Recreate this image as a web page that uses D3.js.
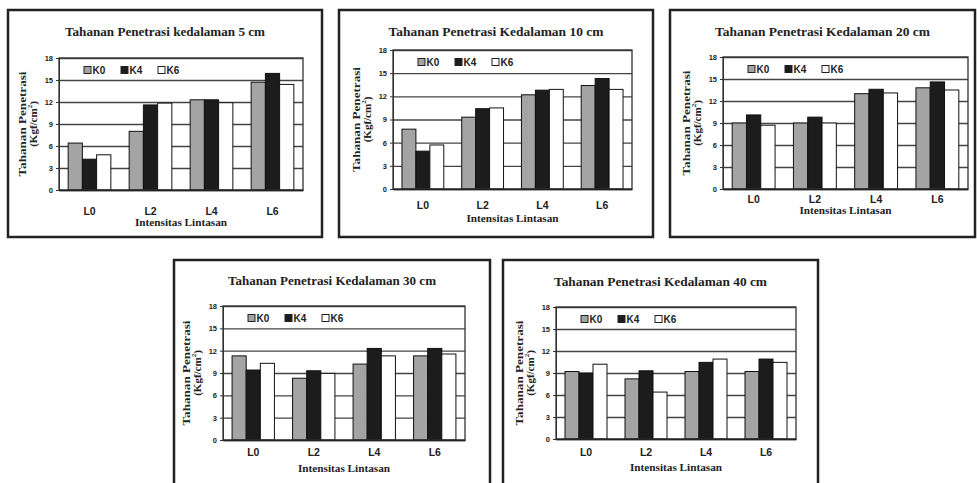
<!DOCTYPE html>
<html>
<head>
<meta charset="utf-8">
<script src="https://cdn.jsdelivr.net/npm/d3@7"></script>
<style>
  body { margin: 0; background: #fff; }
  svg { display: block; }
</style>
</head>
<body>
<div id="chart"></div>
<script>
// data
var categories = ["L0", "L2", "L4", "L6"];
var series = ["K0", "K4", "K6"];
var yTicks = [0, 3, 6, 9, 12, 15, 18];
var titles = [
  "Tahanan Penetrasi kedalaman 5 cm",
  "Tahanan Penetrasi Kedalaman 10 cm",
  "Tahanan Penetrasi Kedalaman 20 cm",
  "Tahanan Penetrasi Kedalaman 30 cm",
  "Tahanan Penetrasi Kedalaman 40 cm"
];
// values per series (K0, K4, K6) over L0, L2, L4, L6
var depth5  = [[6.4, 8.0, 12.3, 14.7], [4.2, 11.6, 12.3, 15.9], [4.8, 11.85, 11.9, 14.4]];
var depth10 = [[7.75, 9.3, 12.2, 13.4], [4.9, 10.4, 12.8, 14.3], [5.7, 10.5, 12.9, 12.9]];
var depth20 = [[9.0, 9.0, 13.0, 13.8], [10.1, 9.8, 13.6, 14.6], [8.7, 9.0, 13.1, 13.5]];
var depth30 = [[11.3, 8.3, 10.2, 11.3], [9.4, 9.3, 12.3, 12.3], [10.3, 8.95, 11.3, 11.55]];
var depth40 = [[9.2, 8.2, 9.2, 9.2], [9.0, 9.3, 10.45, 10.9], [10.2, 6.4, 10.9, 10.45]];
var allData = [depth5, depth10, depth20, depth30, depth40];

var colors = {K0: "#a4a4a4", K4: "#1c1c1c", K6: "#ffffff"};

// panel layout: box, plot area, offsets of tick labels / axis title
var panels = [
  {box: [8, 10, 314, 227],   plot: [59, 58, 303, 190],   tick: 21, xlab: 32, title: 32,  tw: 200},
  {box: [339, 10, 314, 227], plot: [393, 50, 632, 189],  tick: 16, xlab: 29, title: 32,  tw: 215},
  {box: [670, 10, 305, 227], plot: [723, 57, 968, 189],  tick: 10, xlab: 21, title: 32,  tw: 215},
  {box: [174, 260, 316, 240], plot: [223, 306, 465, 440], tick: 12, xlab: 28, title: 281, tw: 208},
  {box: [503, 260, 315, 240], plot: [556, 307, 796, 439], tick: 13, xlab: 28, title: 282, tw: 213}
];

var svg = d3.select("#chart").append("svg")
  .attr("width", 977)
  .attr("height", 483);

panels.forEach(function(p, i) {
  var data = allData[i];
  var L = p.plot[0], T = p.plot[1], R = p.plot[2], B = p.plot[3];
  var w = R - L, h = B - T;

  // outer frame
  svg.append("rect")
    .attr("x", p.box[0]).attr("y", p.box[1])
    .attr("width", p.box[2]).attr("height", p.box[3])
    .attr("fill", "#fff")
    .attr("stroke", "#222")
    .attr("stroke-width", 2.5);

  // title
  svg.append("text")
    .attr("x", p.box[0] + p.box[2] / 2)
    .attr("y", p.title)
    .attr("text-anchor", "middle")
    .attr("dominant-baseline", "central")
    .attr("textLength", p.tw)
    .attr("lengthAdjust", "spacingAndGlyphs")
    .style("font-family", "Liberation Serif, serif")
    .style("font-size", "12px")
    .style("font-weight", "bold")
    .style("fill", "#222")
    .text(titles[i]);

  var g = svg.append("g").attr("transform", "translate(" + L + "," + T + ")");

  var x = d3.scaleBand().domain(categories).range([0, w])
    .paddingInner(0.3).paddingOuter(0.15);
  var xs = d3.scaleBand().domain(series).range([0, x.bandwidth()]);
  var y = d3.scaleLinear().domain([0, 18]).range([h, 0]);

  // grid lines
  g.append("g")
    .call(d3.axisLeft(y).tickValues(yTicks).tickSize(-w).tickFormat(""))
    .call(function(a) { a.select(".domain").remove(); })
    .selectAll("line")
    .attr("stroke", "#444")
    .attr("stroke-width", 1.3);

  // bars
  series.forEach(function(s, si) {
    g.append("g").selectAll("rect")
      .data(data[si])
      .enter().append("rect")
        .attr("x", function(d, ci) { return x(categories[ci]) + xs(s); })
        .attr("y", function(d) { return y(d); })
        .attr("width", xs.bandwidth())
        .attr("height", function(d) { return h - y(d); })
        .attr("fill", colors[s])
        .attr("stroke", "#111")
        .attr("stroke-width", 1);
  });

  // plot border
  g.append("rect")
    .attr("width", w).attr("height", h)
    .attr("fill", "none")
    .attr("stroke", "#333")
    .attr("stroke-width", 1.3);

  // y axis
  var ya = g.append("g")
    .call(d3.axisLeft(y).tickValues(yTicks).tickSize(3).tickPadding(3));
  ya.select(".domain").attr("stroke", "#333");
  ya.selectAll("line").attr("stroke", "#333");
  ya.selectAll("text")
    .style("font-family", "Liberation Sans, Arial, sans-serif")
    .style("font-size", "7.5px")
    .style("font-weight", "bold")
    .style("fill", "#222");

  // x axis labels
  var xa = g.append("g")
    .attr("transform", "translate(0," + h + ")")
    .call(d3.axisBottom(x).tickSize(0).tickPadding(0));
  xa.select(".domain").attr("stroke", "#222").attr("stroke-width", 1.5);
  xa.selectAll("text")
    .attr("y", p.tick)
    .attr("dy", null)
    .attr("dominant-baseline", "central")
    .style("font-family", "Liberation Sans, Arial, sans-serif")
    .style("font-size", "10.5px")
    .style("font-weight", "bold")
    .style("fill", "#222");

  // x title
  g.append("text")
    .attr("x", w / 2)
    .attr("y", h + p.xlab)
    .attr("text-anchor", "middle")
    .attr("dominant-baseline", "central")
    .attr("textLength", 92)
    .attr("lengthAdjust", "spacingAndGlyphs")
    .style("font-family", "Liberation Serif, serif")
    .style("font-size", "10px")
    .style("font-weight", "bold")
    .style("fill", "#222")
    .text("Intensitas Lintasan");

  // y title (two lines)
  var yt = g.append("g")
    .attr("transform", "translate(-37," + (h / 2) + ") rotate(-90)")
    .style("font-family", "Liberation Serif, serif")
    .style("font-size", "11px")
    .style("font-weight", "bold")
    .style("fill", "#222");
  yt.append("text")
    .attr("x", 0).attr("y", 0)
    .attr("text-anchor", "middle")
    .attr("dominant-baseline", "central")
    .attr("textLength", 105)
    .attr("lengthAdjust", "spacingAndGlyphs")
    .text("Tahanan Penetrasi");
  var t2 = yt.append("text")
    .attr("x", 0).attr("y", 10.5)
    .attr("text-anchor", "middle")
    .attr("dominant-baseline", "central");
  t2.append("tspan").text("(Kgf/cm");
  t2.append("tspan").attr("dy", -3).style("font-size", "7px").text("2");
  t2.append("tspan").attr("dy", 3).text(")");

  // legend
  var lg = g.append("g").attr("transform", "translate(25,12)");
  series.forEach(function(s, si) {
    var item = lg.append("g").attr("transform", "translate(" + (si * 37) + ",0)");
    item.append("rect")
      .attr("x", 0).attr("y", -3.5)
      .attr("width", 7).attr("height", 7)
      .attr("fill", colors[s])
      .attr("stroke", "#222")
      .attr("stroke-width", 1);
    item.append("text")
      .attr("x", 8.5).attr("y", 0)
      .attr("dominant-baseline", "central")
      .style("font-family", "Liberation Sans, Arial, sans-serif")
      .style("font-size", "10px")
      .style("font-weight", "bold")
      .style("fill", "#222")
      .text(s);
  });
});
</script>
</body>
</html>
